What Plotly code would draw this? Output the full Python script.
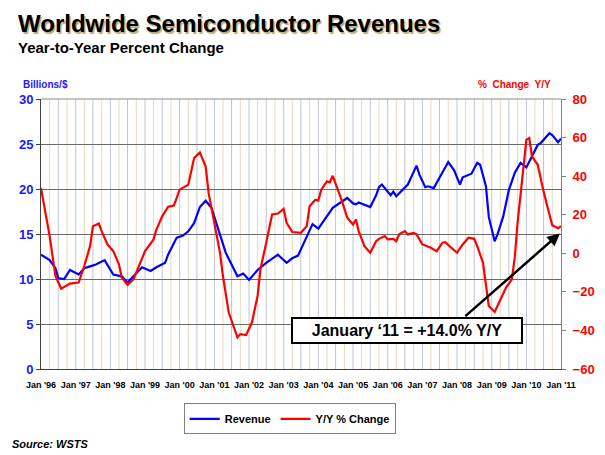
import plotly.graph_objects as go

# ---------------- data ----------------
rev_dates = ["1996-01","1996-04","1996-06","1996-07","1996-09","1996-11","1997-02","1997-04","1997-06","1997-08",
             "1997-11","1998-02","1998-05","1998-07","1998-09","1998-12","1999-03","1999-05","1999-08","1999-09",
             "1999-12","2000-02","2000-04","2000-06","2000-08","2000-10","2000-12","2001-03","2001-05","2001-09",
             "2001-11","2002-01","2002-04","2002-07","2002-11","2003-02","2003-04","2003-06","2003-08","2003-11",
             "2004-01","2004-04","2004-06","2004-11","2005-01","2005-02","2005-03","2005-07","2005-09","2005-10",
             "2005-11","2006-02","2006-03","2006-04","2006-06","2006-08","2006-11","2006-12","2007-02","2007-03",
             "2007-05","2007-08","2007-10","2007-12","2008-02","2008-03","2008-06","2008-08","2008-09","2008-11",
             "2008-12","2009-02","2009-03","2009-05","2009-06","2009-07","2009-09","2009-11","2010-01","2010-03",
             "2010-05","2010-06","2010-09","2010-10","2010-12","2011-01"]
rev_vals = [12.7,12.1,11.2,10.1,10.0,11.0,10.5,11.2,11.4,11.6,
            12.1,10.5,10.3,9.6,10.3,11.3,10.9,11.3,11.8,12.7,
            14.6,14.8,15.3,16.2,18.0,18.7,17.9,15.0,12.9,10.3,
            10.6,9.9,11.0,11.8,12.7,11.8,12.3,12.6,14.0,16.1,
            15.6,16.9,17.9,19.0,18.4,18.3,18.5,18.0,19.3,20.2,
            20.5,19.3,19.7,19.2,19.9,20.5,22.6,21.6,20.2,20.3,
            20.1,21.8,23.0,22.1,20.5,21.3,21.7,22.9,22.7,20.3,
            16.9,14.2,14.9,16.9,18.4,19.9,21.8,22.9,22.4,23.6,
            24.9,25.1,26.2,26.0,25.2,25.6]

yoy_dates = ["1996-01","1996-04","1996-06","1996-08","1996-11","1997-02","1997-04","1997-06","1997-07","1997-09",
             "1997-10","1997-12","1998-02","1998-04","1998-05","1998-07","1998-09","1998-11","1999-01","1999-04",
             "1999-05","1999-07","1999-09","1999-11","2000-01","2000-04","2000-06","2000-08","2000-10","2000-11",
             "2001-01","2001-02","2001-03","2001-04","2001-06","2001-09","2001-10","2001-12","2002-02","2002-04",
             "2002-05","2002-07","2002-09","2002-11","2003-01","2003-02","2003-04","2003-07","2003-09","2003-10",
             "2003-12","2004-01","2004-02","2004-04","2004-05","2004-06","2004-07","2004-09","2004-11","2005-01",
             "2005-02","2005-03","2005-05","2005-07","2005-09","2005-10","2005-12","2006-01","2006-03","2006-04",
             "2006-05","2006-07","2006-08","2006-10","2006-11","2007-01","2007-04","2007-06","2007-08","2007-09",
             "2007-11","2008-01","2008-03","2008-05","2008-07","2008-08","2008-10","2008-11","2008-12","2009-02",
             "2009-03","2009-05","2009-06","2009-08","2009-09","2009-10","2009-12","2010-01","2010-02","2010-03",
             "2010-05","2010-06","2010-07","2010-09","2010-10","2010-12","2011-01"]
yoy_vals = [33.9,8.9,-11.8,-18.3,-15.7,-15.2,-6.6,3.7,14.0,15.4,
            11.5,4.6,1.1,-5.7,-12.6,-16.4,-13.5,-6.6,1.1,7.2,
            12.3,19.2,24.1,24.7,33.0,35.6,49.4,52.3,45.0,31.3,
            15.8,7.2,0.3,-11.8,-30.7,-43.6,-41.9,-42.4,-35.8,-22.1,
            -8.3,5.5,20.1,20.6,23.0,15.8,11.0,10.6,14.0,24.4,
            27.8,27.3,33.0,37.3,36.8,40.2,36.5,27.8,18.4,14.9,
            17.5,11.5,3.7,0.3,6.3,7.5,8.9,7.2,7.5,6.3,
            9.8,11.5,9.8,10.6,9.8,4.6,2.9,1.1,5.5,5.8,
            2.9,0.3,4.6,8.1,7.5,3.7,-4.9,-16.9,-27.3,-30.4,
            -27.3,-20.4,-17.8,-13.5,-2.0,16.0,45.0,58.8,59.7,50.2,
            45.9,38.2,32.1,20.1,14.5,13.0,14.0]

year_ticks = [f"{y}-01-01" for y in range(1996, 2012)]
title_text = "Worldwide Semiconductor Revenues"
subtitle_text = "Year-to-Year Percent Change"
note_text = "January \u201811 = +14.0% Y/Y"
note_date = "2010-12-20"
note_value = 10.3

# ---------------- layout geometry ----------------
# the page body has an 8px default margin, so the figure is drawn 8px in
OFF = 8
W, H = 605 - OFF, 455 - OFF
L, R, T, B = 41 - OFF, 561 - OFF, 99 - OFF, 369.5 - OFF
def px(x):
    return (x - OFF - L) / (R - L)
def py(y):
    return (B - (y - OFF)) / (B - T)

FONT = "Liberation Sans, Arial, sans-serif"

fig = go.Figure()
fig.add_trace(go.Scatter(x=rev_dates, y=rev_vals, name="Revenue", mode="lines",
                         line=dict(color="#0000ff", width=2.2)))
fig.add_trace(go.Scatter(x=yoy_dates, y=yoy_vals, name="Y/Y % Change", mode="lines",
                         line=dict(color="#ff0000", width=2.2), yaxis="y2"))

# quarterly vertical gridlines (alternating colours)
shapes = []
for y in range(1996, 2011):
    for mth in [1, 4, 7, 10]:
        if y == 1996 and mth == 1:
            continue
        col = "#e6dbbf" if mth in (4, 10) else "#bec6ce"
        shapes.append(dict(type="line", xref="x", yref="paper",
                           x0=f"{y}-{mth:02d}-01", x1=f"{y}-{mth:02d}-01", y0=0, y1=1,
                           line=dict(color=col, width=1), layer="below"))
shapes.append(dict(type="line", xref="paper", yref="paper", x0=0, x1=1, y0=1, y1=1,
                   line=dict(color="#8a8a8a", width=1)))

annotations = [
    dict(text=f"<b>{title_text}</b>", x=px(16), y=py(23.5), xref="paper", yref="paper",
         xanchor="left", yanchor="middle", showarrow=False,
         font=dict(family=FONT, size=24, color="#000000", shadow="1.5px 1.5px 1px #b8ad80")),
    dict(text=f"<b>{subtitle_text}</b>", x=px(16), y=py(47.8), xref="paper", yref="paper",
         xanchor="left", yanchor="middle", showarrow=False,
         font=dict(family=FONT, size=15, color="#000000")),
    dict(text="<b>Billions/$</b>", x=px(45), y=py(84.5), xref="paper", yref="paper",
         xanchor="center", yanchor="middle", showarrow=False,
         font=dict(family=FONT, size=10, color="#1a1aff")),
    dict(text="<b>%\u00a0 Change\u00a0 Y/Y</b>", x=px(514.5), y=py(84.5), xref="paper", yref="paper",
         xanchor="center", yanchor="middle", showarrow=False,
         font=dict(family=FONT, size=10, color="#ff0000")),
    dict(text="<b><i>Source: WSTS</i></b>", x=px(10), y=py(445), xref="paper", yref="paper",
         xanchor="left", yanchor="middle", showarrow=False,
         font=dict(family=FONT, size=11, color="#000000")),
    # arrow
    dict(text="", x=note_date, y=note_value, xref="x", yref="y2", showarrow=True,
         ax=-96, ay=84, arrowhead=2, arrowsize=1, arrowwidth=2.5, arrowcolor="#000000", standoff=0),
    # box
    dict(text=f"<b>{note_text}</b>", x=px(407), y=py(330.8), xref="paper", yref="paper",
         xanchor="center", yanchor="middle", showarrow=False,
         font=dict(family=FONT, size=16, color="#000000"),
         bgcolor="#ffffff", bordercolor="#000000", borderwidth=2, borderpad=2, width=224, height=19),
]

fig.update_layout(
    width=W, height=H,
    margin=dict(l=L, r=W - R, t=T, b=H - B, pad=0, autoexpand=False),
    paper_bgcolor="#ffffff", plot_bgcolor="#ffffff",
    font=dict(family=FONT),
    showlegend=True,
    legend=dict(orientation="h", x=px(289.7), y=py(404), xanchor="center", yanchor="top",
                bordercolor="#808080", borderwidth=1, bgcolor="#ffffff",
                font=dict(family=FONT, size=11, color="#000000", weight="bold"),
                itemwidth=30, tracegroupgap=0),
    xaxis=dict(type="date", range=["1996-01-01", "2011-01-01"], tickvals=year_ticks,
               tickformat="%b '%y", showgrid=False, zeroline=False,
               showline=True, linecolor="#404040", linewidth=1, ticks="",
               ticklabelstandoff=7,
               tickfont=dict(family=FONT, size=9, color="#000000", weight="bold")),
    yaxis=dict(range=[0, 30], dtick=5, showgrid=True, gridcolor="#6a6a6a", gridwidth=1,
               zeroline=False, showline=True, linecolor="#404040", linewidth=1,
               ticks="outside", ticklen=4, tickcolor="#404040",
               tickfont=dict(family=FONT, size=13, color="#1a1aff", weight="bold")),
    yaxis2=dict(range=[-60, 80], dtick=20, overlaying="y", side="right", showgrid=False,
                zeroline=False, showline=True, linecolor="#808080", linewidth=1,
                ticks="outside", ticklen=4, tickcolor="#808080", ticklabelstandoff=4,
                tickfont=dict(family=FONT, size=13, color="#ff0000", weight="bold")),
    shapes=shapes,
    annotations=annotations,
)

fig.write_html("out.html")
